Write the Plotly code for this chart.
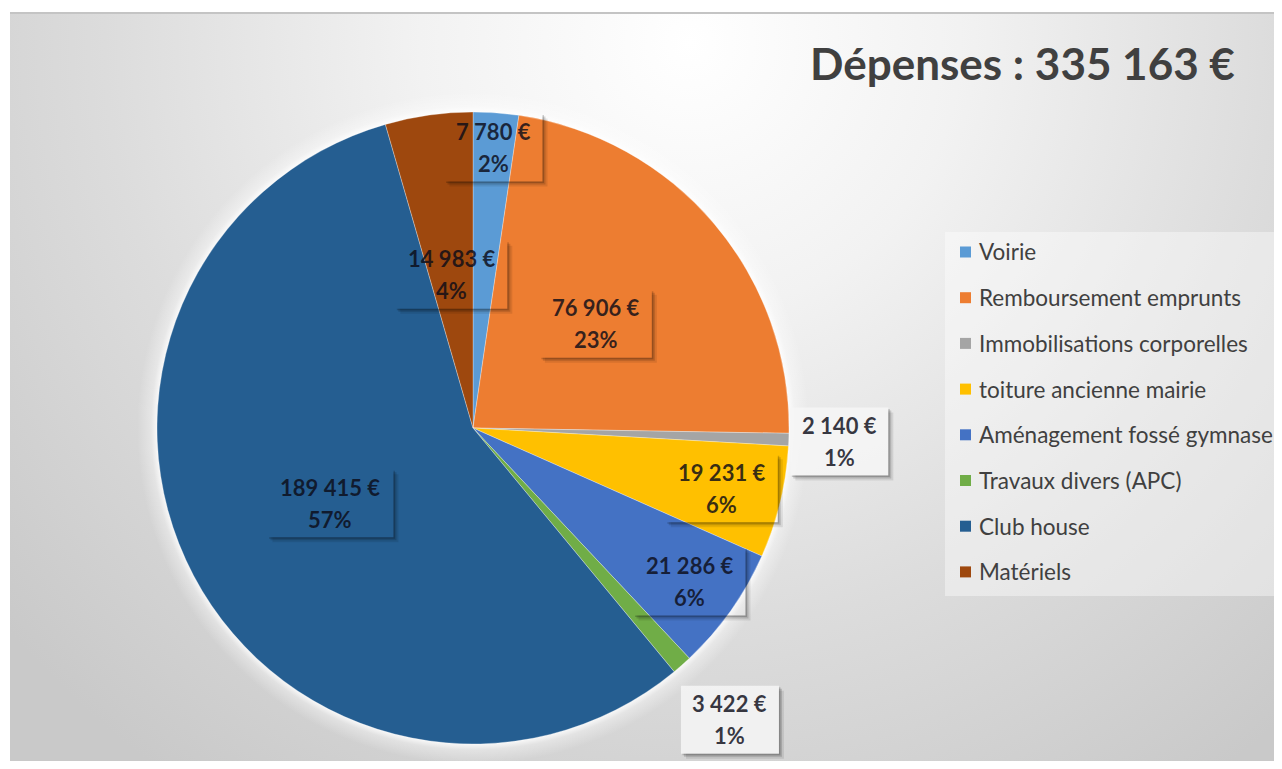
import math
import base64
import plotly.graph_objects as go

# ---------------- data ----------------
categories = [
    "Voirie",
    "Remboursement emprunts",
    "Immobilisations corporelles",
    "toiture ancienne mairie",
    "Aménagement fossé gymnase",
    "Travaux divers (APC)",
    "Club house",
    "Matériels",
]
amounts = [7780, 76906, 2140, 19231, 21286, 3422, 189415, 14983]
title_prefix = "Dépenses : "

# ---------------- style ----------------
OFF = 8                      # default page body margin
W, H = 1282 - OFF, 769 - 2 * OFF
colors = ["#5B9BD5", "#ED7D31", "#A5A5A5", "#FFC000",
          "#4472C4", "#70AD47", "#255E91", "#9E480E"]
label_radius = [0.89, 0.51, 1.16, 0.81, 0.84, 1.23, 0.51, 0.49]
label_outside = [False, False, True, False, False, True, False, False]
CX, CY, R = 473, 428, 316          # pie centre / radius in screen pixels
FONT = "Lato"
TXT = "#404040"


def px2x(sx):
    return (sx - OFF) / W


def px2y(sy):
    return 1 - (sy - OFF) / H


def fmt_eur(v):
    return f"{v:,}".replace(",", " ") + " €"


total = sum(amounts)

# ---------------- background (gradient + pie glow) ----------------
FX, FY = 10, 13                     # frame top-left (screen px)
bw, bh = 1282 - FX, (H + OFF) - FY
gcx, gcy = CX - FX, CY - FY
svg = f'''<svg xmlns="http://www.w3.org/2000/svg" width="{bw}" height="{bh}" viewBox="0 0 {bw} {bh}" preserveAspectRatio="none">
<defs>
<radialGradient id="bg" gradientUnits="userSpaceOnUse" cx="680" cy="30" r="900">
<stop offset="0" stop-color="#ffffff"/>
<stop offset="0.30" stop-color="#f2f2f2"/>
<stop offset="0.65" stop-color="#dcdcdc"/>
<stop offset="1" stop-color="#c9c9c9"/>
</radialGradient>
<radialGradient id="glow" gradientUnits="userSpaceOnUse" cx="{gcx}" cy="{gcy}" r="{R+20}">
<stop offset="0" stop-color="#ffffff" stop-opacity="0.9"/>
<stop offset="{(R-1)/(R+20):.4f}" stop-color="#ffffff" stop-opacity="0.9"/>
<stop offset="{(R+6)/(R+20):.4f}" stop-color="#ffffff" stop-opacity="0.35"/>
<stop offset="1" stop-color="#ffffff" stop-opacity="0"/>
</radialGradient>
</defs>
<rect x="0" y="0" width="{bw}" height="{bh}" fill="url(#bg)"/>
<circle cx="{gcx}" cy="{gcy}" r="{R+20}" fill="url(#glow)"/>
</svg>'''
bg_uri = "data:image/svg+xml;base64," + base64.b64encode(svg.encode("utf-8")).decode("ascii")

fig = go.Figure()
fig.add_trace(go.Pie(
    labels=categories,
    values=amounts,
    sort=False,
    direction="clockwise",
    rotation=0,
    textinfo="none",
    hoverinfo="label+value+percent",
    marker=dict(colors=colors, line=dict(color="rgba(255,255,255,0.3)", width=1)),
    domain=dict(x=[px2x(CX - R), px2x(CX + R)], y=[px2y(CY + R), px2y(CY - R)]),
    showlegend=False,
))

shapes = []
annotations = []

# top frame line
shapes.append(dict(type="line", xref="paper", yref="paper",
                   x0=px2x(FX), x1=1, y0=px2y(FY), y1=px2y(FY),
                   line=dict(color="#c4c4c4", width=2), layer="above"))

# ---------------- data labels ----------------
cum = 0
for i, v in enumerate(amounts):
    mid = (cum + v / 2) / total * 2 * math.pi
    cum += v
    r = label_radius[i] * R
    lx = CX + r * math.sin(mid)
    ly = CY - r * math.cos(mid)
    xa, ya = px2x(lx), px2y(ly)
    val_txt = fmt_eur(v)
    pct_txt = f"{round(v / total * 100)}%"
    a = (14 * len(val_txt)) / 2
    b = 34
    if label_outside[i]:
        shapes.append(dict(type="path", xref="paper", yref="paper",
                           xsizemode="pixel", ysizemode="pixel",
                           xanchor=xa, yanchor=ya,
                           path=f"M {-a},{-b} L {a},{-b} L {a},{b} L {-a},{b} Z",
                           fillcolor="rgba(246,246,246,0.85)", line=dict(width=0), layer="above"))
    for s, op in [(5, 0.09), (3, 0.15), (1.5, 0.18)]:
        p = (f"M {-a + s},{-b} L {a},{-b} L {a},{b - s} L {a + s},{b - s} "
             f"L {a + s},{-b - s} L {-a + s},{-b - s} Z")
        shapes.append(dict(type="path", xref="paper", yref="paper",
                           xsizemode="pixel", ysizemode="pixel",
                           xanchor=xa, yanchor=ya, path=p,
                           fillcolor=f"rgba(0,0,0,{op})", line=dict(width=0), layer="above"))
    for txt, ys in [(val_txt, 16), (pct_txt, -16)]:
        annotations.append(dict(x=xa, y=ya, xref="paper", yref="paper",
                                text=f"<b>{txt}</b>", showarrow=False,
                                xanchor="center", yanchor="middle", yshift=ys,
                                font=dict(family=FONT, size=22, color="rgba(12,12,24,0.82)")))

# ---------------- title ----------------
annotations.append(dict(x=px2x(1237), y=px2y(63), xref="paper", yref="paper",
                        text=f"<b>{title_prefix}{fmt_eur(total)}</b>", showarrow=False,
                        xanchor="right", yanchor="middle",
                        font=dict(family=FONT, size=44, color=TXT)))

# ---------------- legend (manual, Excel-like spacing) ----------------
shapes.append(dict(type="rect", xref="paper", yref="paper",
                   x0=px2x(945), x1=px2x(1280), y0=px2y(596), y1=px2y(232),
                   fillcolor="rgba(255,255,255,0.40)", line=dict(width=0), layer="below"))
leg_y0, leg_dy = 252, 45.7
for i, name in enumerate(categories):
    yc = leg_y0 + i * leg_dy
    shapes.append(dict(type="rect", xref="paper", yref="paper",
                       x0=px2x(960), x1=px2x(971), y0=px2y(yc + 5.5), y1=px2y(yc - 5.5),
                       fillcolor=colors[i], line=dict(width=0), layer="above"))
    annotations.append(dict(x=px2x(977), y=px2y(yc), xref="paper", yref="paper",
                            text=name, showarrow=False, xanchor="left", yanchor="middle",
                            font=dict(family=FONT, size=22.5, color=TXT)))

fig.update_layout(
    width=W, height=H,
    margin=dict(l=0, r=0, t=0, b=0),
    paper_bgcolor="#ffffff",
    plot_bgcolor="#ffffff",
    images=[dict(source=bg_uri, xref="paper", yref="paper",
                 x=px2x(FX), y=px2y(FY), sizex=1 - px2x(FX), sizey=px2y(FY),
                 xanchor="left", yanchor="top", sizing="stretch", layer="below")],
    shapes=shapes,
    annotations=annotations,
    showlegend=False,
)

fig.write_html("out.html")
